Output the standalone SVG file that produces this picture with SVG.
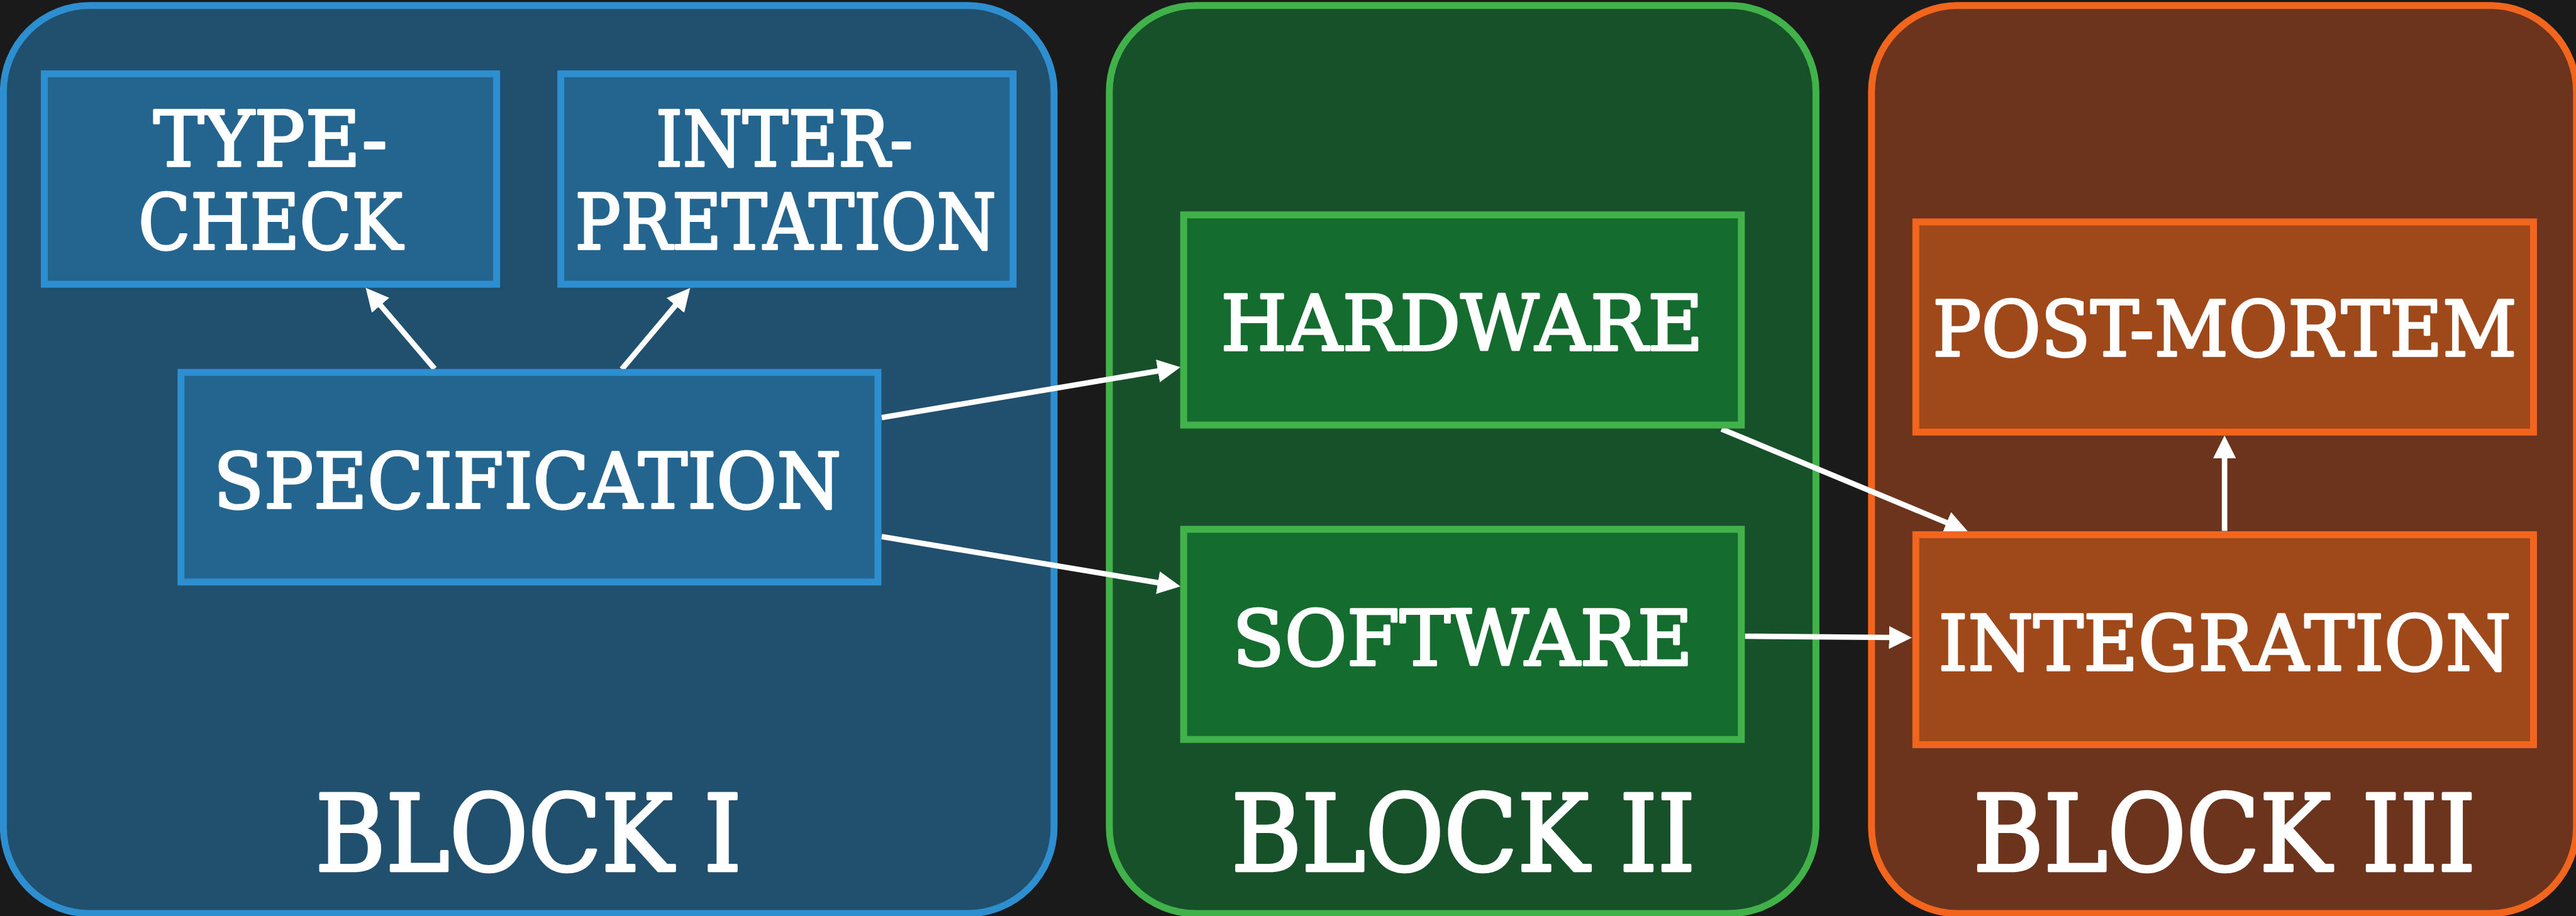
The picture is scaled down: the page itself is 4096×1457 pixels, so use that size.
<svg xmlns="http://www.w3.org/2000/svg" width="4096" height="1457" viewBox="0 0 4096 1457">
  <style>
    .bg { fill: #1a1a1a; }
    .block { stroke-width: 11; }
    .node { stroke-width: 11; }
    .b1 { fill: #214f6e; stroke: #2d8fd0; }
    .n1 { fill: #23658f; stroke: #2d8fd0; }
    .b2 { fill: #165129; stroke: #41b14a; }
    .n2 { fill: #146c2e; stroke: #41b14a; }
    .b3 { fill: #6c341c; stroke: #f1651d; }
    .n3 { fill: #9f481a; stroke: #f1651d; }
    text { font-family: "DejaVu Serif", "Liberation Serif", serif; fill: #ffffff; stroke: #ffffff; stroke-linejoin: round; text-anchor: middle; }
    .label { font-size: 122px; stroke-width: 3.6; }
    .title { font-size: 169px; stroke-width: 4.6; }
    .edge { stroke: #ffffff; stroke-width: 8.7; fill: none; marker-end: url(#head); }
  </style>
  <defs>
    <marker id="head" markerUnits="userSpaceOnUse" markerWidth="36.5" markerHeight="36.5" refX="6.5" refY="18.25" orient="auto">
      <path d="M0,0 L36.5,18.25 L0,36.5 Z" fill="#ffffff"/>
    </marker>
  </defs>

  <rect class="bg" x="0" y="0" width="4096" height="1457"/>

  <!-- containers -->
  <g id="block-1">
    <rect class="block b1" x="5.4" y="8.7" width="1670.6" height="1444.2" rx="137" ry="137"/>
    <text class="title" x="840.3" y="1384.5" textLength="678" lengthAdjust="spacingAndGlyphs">BLOCK I</text>
  </g>
  <g id="block-2">
    <rect class="block b2" x="1763.9" y="8.7" width="1123.6" height="1444.2" rx="137" ry="137"/>
    <text class="title" x="2326.7" y="1384.5" textLength="738" lengthAdjust="spacingAndGlyphs">BLOCK II</text>
  </g>
  <g id="block-3">
    <rect class="block b3" x="2975.8" y="8.7" width="1120.9" height="1444.2" rx="137" ry="137"/>
    <text class="title" x="3537" y="1384.5" textLength="799" lengthAdjust="spacingAndGlyphs">BLOCK III</text>
  </g>

  <!-- connectors -->
  <g id="connectors">
    <line class="edge" x1="691.0" y1="586.5" x2="600.9" y2="480.7"/>
    <line class="edge" x1="988.7" y1="587.3" x2="1078.1" y2="480.9"/>
    <line class="edge" x1="1401.9" y1="664.2" x2="1847.5" y2="589.0"/>
    <line class="edge" x1="1401.9" y1="853.5" x2="1847.5" y2="927.9"/>
    <line class="edge" x1="2737.4" y1="682.4" x2="3101.2" y2="833.8"/>
    <line class="edge" x1="2774.7" y1="1012.0" x2="3010.1" y2="1014.0"/>
    <line class="edge" x1="3537.2" y1="844.4" x2="3537.2" y2="722.6"/>
  </g>

  <!-- nodes -->
  <g id="type-check">
    <rect class="node n1" x="70.5" y="117.4" width="719.2" height="334.7"/>
    <text class="label" x="430.1" y="264" textLength="372" lengthAdjust="spacingAndGlyphs">TYPE-</text>
    <text class="label" x="430.1" y="396" textLength="420" lengthAdjust="spacingAndGlyphs">CHECK</text>
  </g>
  <g id="interpretation">
    <rect class="node n1" x="891.7" y="117.4" width="719.2" height="334.7"/>
    <text class="label" x="1247.1" y="264" textLength="409" lengthAdjust="spacingAndGlyphs">INTER-</text>
    <text class="label" x="1249.2" y="395.5" textLength="670" lengthAdjust="spacingAndGlyphs">PRETATION</text>
  </g>
  <g id="specification">
    <rect class="node n1" x="287.8" y="592.3" width="1108.2" height="333.5"/>
    <text class="label" x="838.6" y="808.2" textLength="998" lengthAdjust="spacingAndGlyphs">SPECIFICATION</text>
  </g>
  <g id="hardware">
    <rect class="node n2" x="1882.1" y="341.8" width="886.7" height="334.3"/>
    <text class="label" x="2324.6" y="556.8" textLength="767" lengthAdjust="spacingAndGlyphs">HARDWARE</text>
  </g>
  <g id="software">
    <rect class="node n2" x="1882.1" y="841.9" width="886.7" height="334.3"/>
    <text class="label" x="2325.5" y="1057.8" textLength="732" lengthAdjust="spacingAndGlyphs">SOFTWARE</text>
  </g>
  <g id="post-mortem">
    <rect class="node n3" x="3046.3" y="353.0" width="982.1" height="334.3"/>
    <text class="label" x="3537.4" y="565.9" textLength="929" lengthAdjust="spacingAndGlyphs">POST-MORTEM</text>
  </g>
  <g id="integration">
    <rect class="node n3" x="3046.3" y="850.6" width="982.1" height="333.9"/>
    <text class="label" x="3537.4" y="1066.1" textLength="911" lengthAdjust="spacingAndGlyphs">INTEGRATION</text>
  </g>
</svg>
